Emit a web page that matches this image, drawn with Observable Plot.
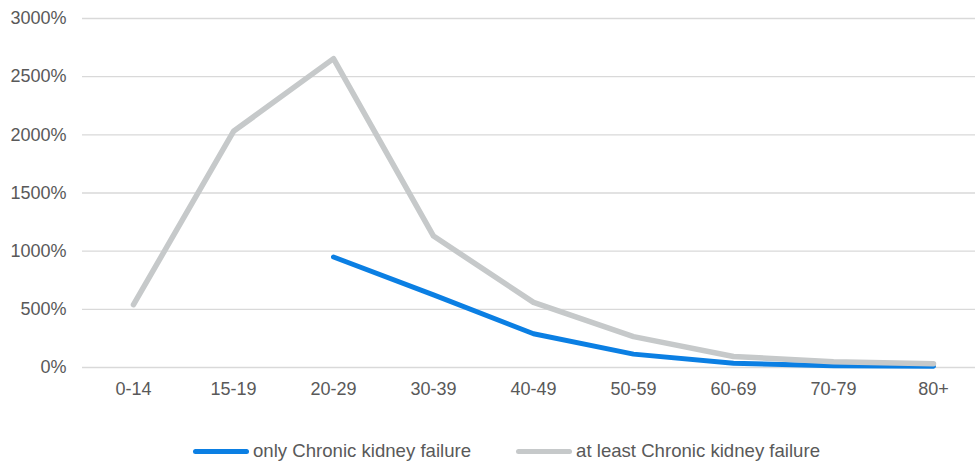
<!DOCTYPE html>
<html>
<head>
<meta charset="utf-8">
<script src="https://cdn.jsdelivr.net/npm/d3@7"></script>
<script src="https://cdn.jsdelivr.net/npm/@observablehq/plot@0.6"></script>
<style>
  body { margin: 0; background: #fff; font-family: "Liberation Sans", Arial, sans-serif; }
  #wrap { position: relative; width: 975px; height: 464px; }
  .legend { position: absolute; left: 193px; top: 442px; display: flex; align-items: center; font-size: 18.6px; color: #595959; height: 18px; white-space: nowrap; }
  .item { display: flex; align-items: center; }
  .sw { width: 56px; height: 5px; border-radius: 3px; margin-right: 4px; }
</style>
</head>
<body>
<div id="wrap">
  <div id="chart"></div>
  <div class="legend" id="legend"></div>
</div>
<script>
const ageGroups = ["0-14","15-19","20-29","30-39","40-49","50-59","60-69","70-79","80+"];
const onlyCKF = [null, null, 950, 625, 290, 115, 37, 15, 10];
const atLeastCKF = [540, 2030, 2655, 1130, 560, 265, 95, 50, 32];
const yTicks = [0, 500, 1000, 1500, 2000, 2500, 3000];
const seriesNames = ["only Chronic kidney failure", "at least Chronic kidney failure"];
const seriesColors = ["#0b7fe3", "#c6c9ca"];

const onlyData = ageGroups.map((g, i) => ({age: g, value: onlyCKF[i]})).filter(d => d.value != null);
const atLeastData = ageGroups.map((g, i) => ({age: g, value: atLeastCKF[i]}));

const chart = Plot.plot({
  width: 975,
  height: 410,
  marginLeft: 82,
  marginRight: 0,
  marginTop: 18,
  marginBottom: 43,
  style: {fontFamily: "'Liberation Sans', Arial, sans-serif", fontSize: "18px", color: "#595959", background: "#fff"},
  x: {type: "point", domain: ageGroups, range: [132.5, 932.5], padding: 0, label: null},
  y: {domain: [0, 3000], label: null},
  marks: [
    Plot.ruleY(yTicks, {stroke: "#d9d9d9", strokeWidth: 1.3}),
    Plot.axisY({ticks: yTicks, tickFormat: d => d + "%", tickSize: 0, tickPadding: 16, label: null, fontSize: 18, fill: "#595959"}),
    Plot.axisX({tickSize: 0, tickPadding: 15, label: null, fontSize: 18, fill: "#595959"}),
    Plot.line(onlyData, {x: "age", y: "value", stroke: seriesColors[0], strokeWidth: 5, strokeLinecap: "round", strokeLinejoin: "round"}),
    Plot.line(atLeastData, {x: "age", y: "value", stroke: seriesColors[1], strokeWidth: 5.5, strokeLinecap: "round", strokeLinejoin: "round"})
  ]
});
document.getElementById("chart").appendChild(chart);

const legend = document.getElementById("legend");
seriesNames.forEach((name, i) => {
  const item = document.createElement("div");
  item.className = "item";
  if (i > 0) item.style.marginLeft = "45px";
  const sw = document.createElement("span");
  sw.className = "sw";
  sw.style.background = seriesColors[i];
  const t = document.createElement("span");
  t.textContent = name;
  item.appendChild(sw);
  item.appendChild(t);
  legend.appendChild(item);
});
</script>
</body>
</html>
